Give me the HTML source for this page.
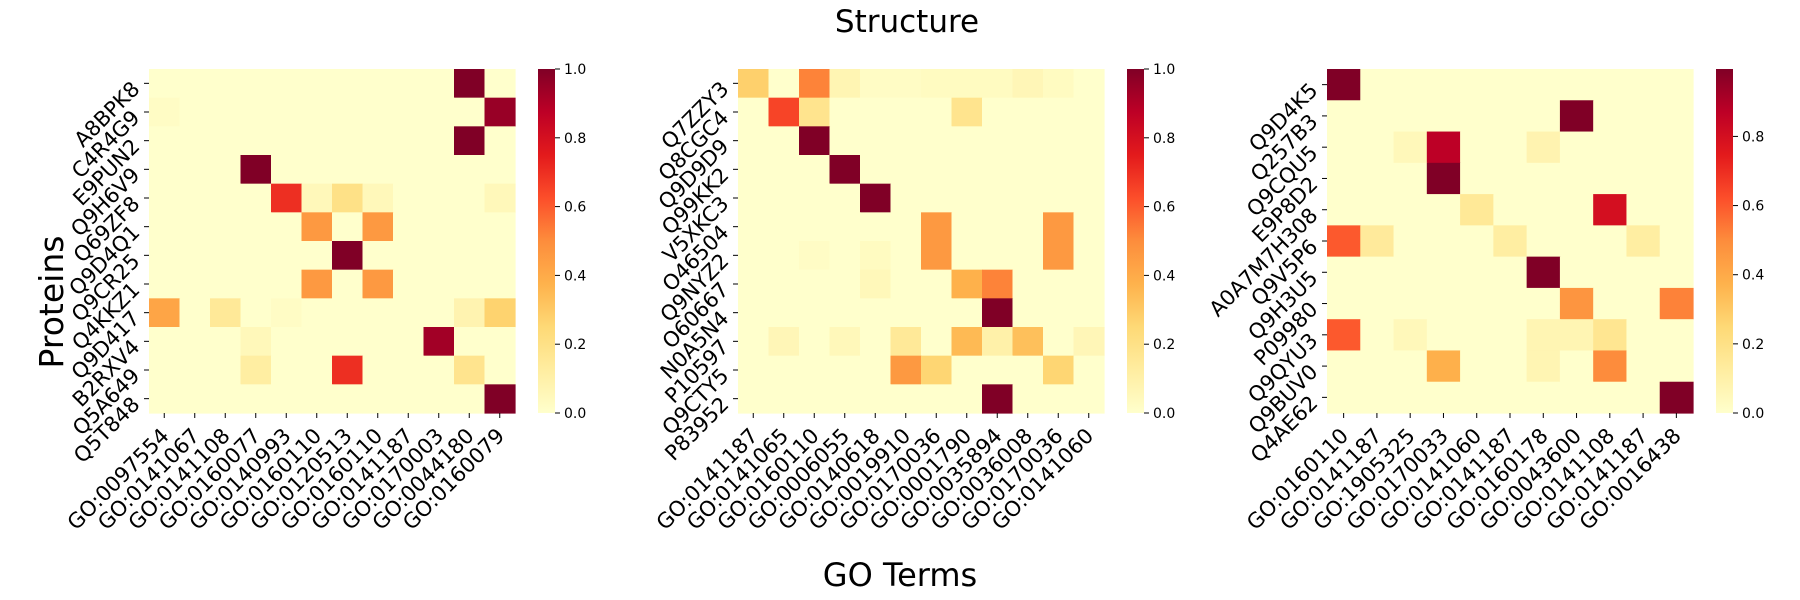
<!DOCTYPE html>
<html><head><meta charset="utf-8">
<style>
html,body{margin:0;padding:0;background:#fff;}
svg{display:block;}
text{font-family:"DejaVu Sans","Liberation Sans",sans-serif;fill:#000;}
</style></head>
<body>
<svg id="s" width="1800" height="600" xmlns="http://www.w3.org/2000/svg">
<defs>
<linearGradient id="cm" x1="0" y1="1" x2="0" y2="0">
<stop offset="0" stop-color="#ffffcc"/><stop offset="0.125" stop-color="#ffeda0"/><stop offset="0.25" stop-color="#fed976"/><stop offset="0.375" stop-color="#feb24c"/><stop offset="0.5" stop-color="#fd8d3c"/><stop offset="0.625" stop-color="#fc4e2a"/><stop offset="0.75" stop-color="#e31a1c"/><stop offset="0.875" stop-color="#bd0026"/><stop offset="1" stop-color="#800026"/>
</linearGradient>
</defs>
<text x="907" y="32" font-size="31" text-anchor="middle">Structure</text>
<text x="900" y="586" font-size="32" text-anchor="middle">GO Terms</text>
<text transform="translate(63,302) rotate(-90)" font-size="33" text-anchor="middle">Proteins</text>
</svg>
<script>
var S=document.getElementById('s'),NS='http://www.w3.org/2000/svg';
var stops=['#ffffcc','#ffeda0','#fed976','#feb24c','#fd8d3c','#fc4e2a','#e31a1c','#bd0026','#800026'];
function hx(h){return [parseInt(h.substr(1,2),16),parseInt(h.substr(3,2),16),parseInt(h.substr(5,2),16)];}
function col(v){v=Math.max(0,Math.min(1,v));var p=v*8,i=Math.min(7,Math.floor(p)),f=p-i,a=hx(stops[i]),b=hx(stops[i+1]);
return 'rgb('+a.map(function(x,k){return Math.round(x+(b[k]-x)*f)}).join(',')+')';}
function el(t,at,txt){var e=document.createElementNS(NS,t);for(var k in at)e.setAttribute(k,at[k]);if(txt!=null)e.textContent=txt;S.appendChild(e);return e;}
function panel(x0,rows,cols,sparse,cbx,ticks,cbmax){
 var y0=69,W=366,H=344,n=rows.length,m=cols.length,cw=W/m,rh=H/n;
 var M=[];for(var r=0;r<n;r++){M.push([]);for(var c=0;c<m;c++)M[r].push(0);}
 sparse.forEach(function(s){M[s[0]][s[1]]=s[2];});
 for(var r=0;r<n;r++)for(var c=0;c<m;c++)el('rect',{x:x0+c*cw,y:y0+r*rh,width:cw+0.6,height:rh+0.6,fill:col(M[r][c]/cbmax)});
 for(var c=0;c<m;c++){var tx=x0+(c+0.5)*cw;el('line',{x1:tx,y1:y0+H,x2:tx,y2:y0+H+5,stroke:'#000','stroke-width':1});
  el('text',{transform:'translate('+(tx+6)+',437) rotate(-45)','font-size':21,'text-anchor':'end'},cols[c]);}
 for(var r=0;r<n;r++){var ty=y0+(r+0.5)*rh;el('line',{x1:x0-5,y1:ty,x2:x0,y2:ty,stroke:'#000','stroke-width':1});
  el('text',{transform:'translate('+(x0-8)+','+(ty+7)+') rotate(-45)','font-size':21,'text-anchor':'end'},rows[r]);}
 el('rect',{x:cbx,y:y0,width:17,height:H,fill:'url(#cm)'});
 ticks.forEach(function(v){var ty=y0+H-H*v/cbmax;el('line',{x1:cbx+17,y1:ty,x2:cbx+22,y2:ty,stroke:'#000','stroke-width':1});
  el('text',{x:cbx+26,y:ty+5,'font-size':14},v.toFixed(1));});
}
panel(149,['A8BPK8','C4R4G9','E9PUN2','Q9H6V9','Q69ZF8','Q9D4Q1','Q9CR25','Q4KKZ1','Q9D417','B2RXV4','Q5A649','Q5T848'],
['GO:0097554','GO:0141067','GO:0141108','GO:0160077','GO:0140993','GO:0160110','GO:0120513','GO:0160110','GO:0141187','GO:0170003','GO:0044180','GO:0160079'],
[[0,10,1],[1,0,0.02],[1,11,0.95],[2,10,1],[3,3,1],[4,4,0.7],[4,5,0.05],[4,6,0.2],[4,7,0.05],[4,11,0.05],[5,5,0.46],[5,7,0.46],[6,6,1],[7,5,0.46],[7,7,0.46],
[8,0,0.42],[8,2,0.15],[8,4,0.02],[8,10,0.08],[8,11,0.27],[9,3,0.05],[9,9,0.93],[10,3,0.12],[10,6,0.7],[10,10,0.18],[11,11,1]],538,[0,0.2,0.4,0.6,0.8,1.0],1);
panel(738,['Q7ZZY3','Q8CGC4','Q9D9D9','Q99KK2','V5XKC3','O46504','Q9NYZ2','O60667','N0A5N4','P10597','Q9CTY5','P83952'],
['GO:0141187','GO:0141065','GO:0160110','GO:0006055','GO:0140618','GO:0019910','GO:0170036','GO:0001790','GO:0035894','GO:0036008','GO:0170036','GO:0141060'],
[[0,0,0.28],[0,2,0.52],[0,3,0.07],[0,4,0.02],[0,5,0.02],[0,6,0.03],[0,7,0.03],[0,8,0.03],[0,9,0.06],[0,10,0.03],[1,1,0.65],[1,2,0.18],[1,7,0.18],
[2,2,1],[3,3,1],[4,4,1],[5,6,0.46],[5,10,0.46],[6,6,0.46],[6,10,0.46],[6,2,0.02],[6,4,0.03],[7,7,0.38],[7,8,0.52],[7,4,0.05],[8,8,1],
[9,1,0.06],[9,3,0.05],[9,5,0.15],[9,7,0.35],[9,8,0.1],[9,9,0.33],[9,11,0.06],[10,5,0.46],[10,6,0.26],[10,10,0.26],[11,8,1]],1127,[0,0.2,0.4,0.6,0.8,1.0],1);
panel(1327,['Q9D4K5','Q257B3','Q9CQU5','E9P8D2','A0A7M7H308','Q9V5P6','Q9H3U5','P09980','Q9QYU3','Q9BUV0','Q4AE62'],
['GO:0160110','GO:0141187','GO:1905325','GO:0170033','GO:0141060','GO:0141187','GO:0160178','GO:0043600','GO:0141108','GO:0141187','GO:0016438'],
[[0,0,1],[1,7,1],[2,2,0.05],[2,3,0.87],[2,6,0.08],[3,3,1],[4,4,0.15],[4,8,0.8],[5,0,0.6],[5,1,0.14],[5,5,0.12],[5,9,0.12],[6,6,1],[7,7,0.47],[7,10,0.52],
[8,0,0.6],[8,2,0.05],[8,6,0.07],[8,7,0.07],[8,8,0.17],[9,3,0.38],[9,6,0.07],[9,8,0.5],[10,10,1]],1716,[0,0.2,0.4,0.6,0.8],0.995);
</script>
</body></html>
